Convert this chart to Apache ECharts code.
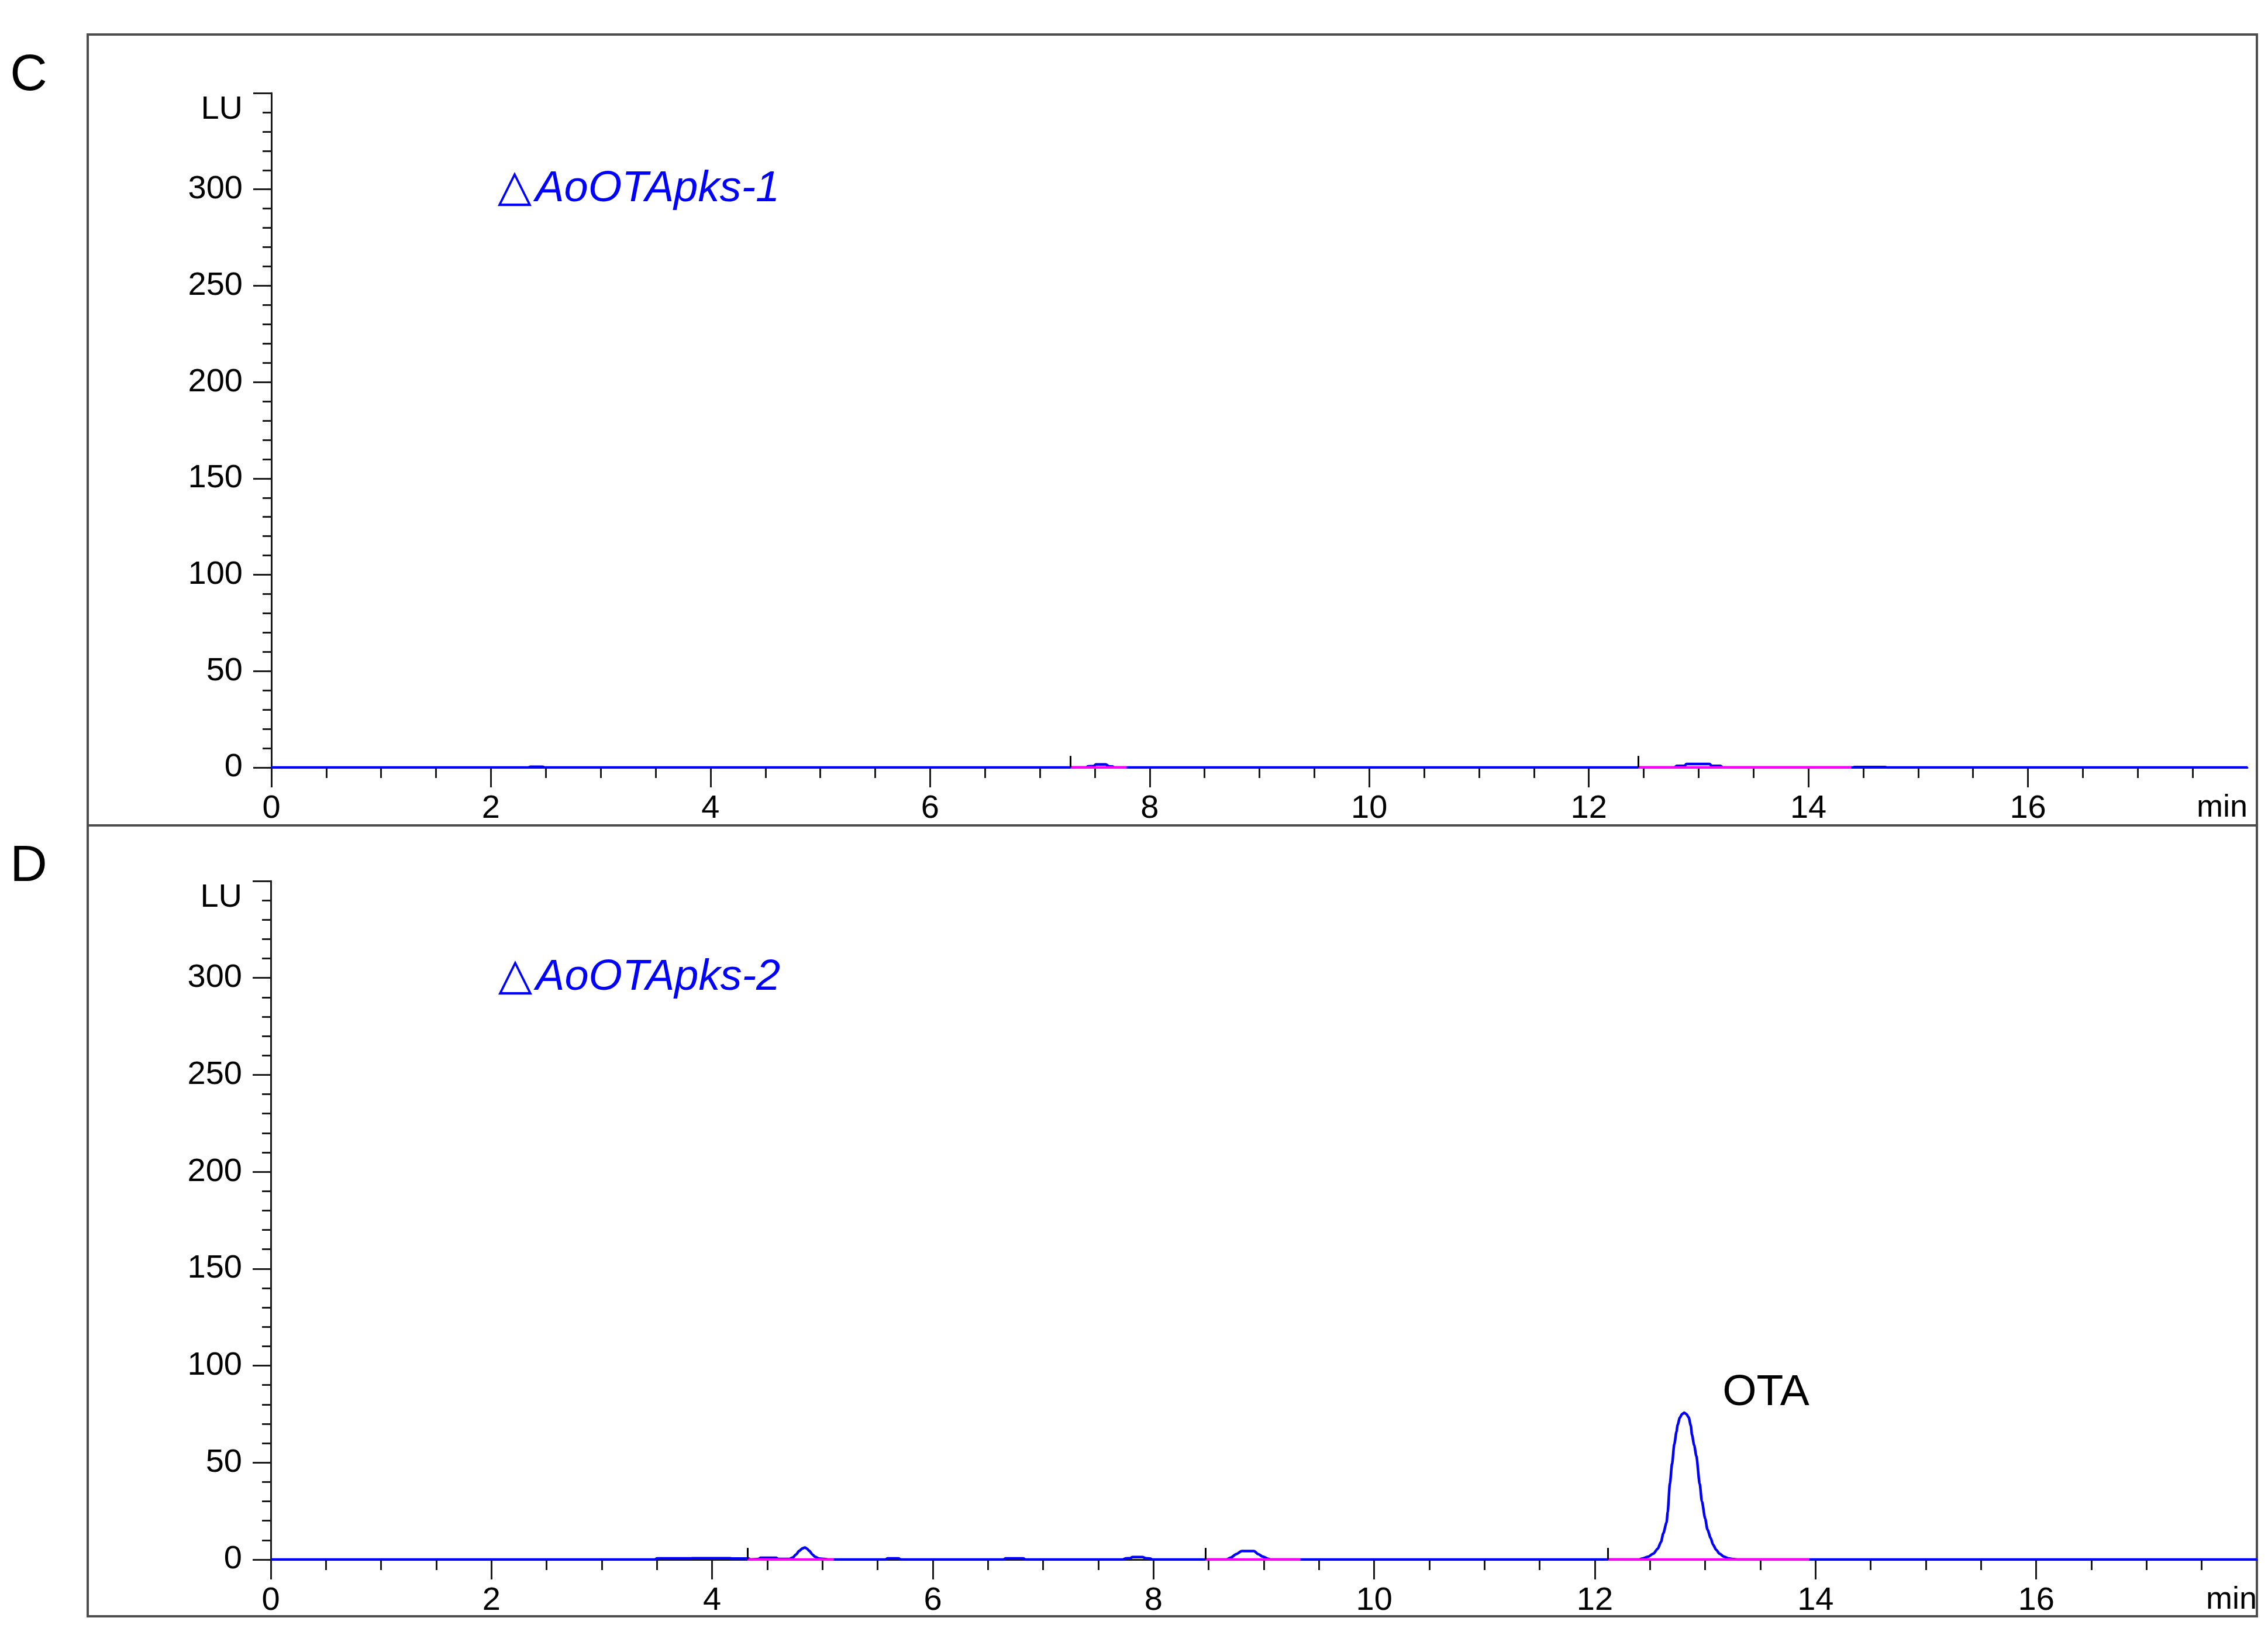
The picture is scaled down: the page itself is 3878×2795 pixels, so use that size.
<!DOCTYPE html>
<html>
<head>
<meta charset="utf-8">
<script src="https://cdn.jsdelivr.net/npm/echarts@6.0.0/dist/echarts.min.js"></script>
<style>
  html, body { margin: 0; padding: 0; background: #fff; }
  #chart { width: 3878px; height: 2795px; }
</style>
</head>
<body>
<div id="chart"></div>
<script>
// axis ranges and tick labels
const timeMax = 18
const luMax = 350
const timeLabels = [0, 2, 4, 6, 8, 10, 12, 14, 16]

// panel C: ΔAoOTApks-1, no OTA peak
const signalC = [
  [0, 0], [2.34, 0], [2.36, 0.4], [2.47, 0.4], [2.49, 0],
  [7.42, 0], [7.44, 0.6], [7.49, 0.7], [7.51, 1.6], [7.60, 1.6], [7.63, 0.6], [7.66, 0.5], [7.68, 0],
  [12.78, 0], [12.80, 0.8], [12.87, 0.8], [12.89, 1.8], [13.10, 1.8], [13.12, 0.8], [13.20, 0.8], [13.22, 0],
  [14.40, 0], [14.42, 0.25], [14.70, 0.25], [14.72, 0],
  [18, 0]
]
const baselinesC = [[7.28, 7.79], [12.45, 14.39]]
const eventsC = [7.28, 12.45]

// panel D: ΔAoOTApks-2, OTA peak at ~12.8 min
const signalD = [
  [0, 0], [3.48, 0], [3.50, 0.6], [3.81, 0.6], [3.83, 0.7], [4.16, 0.7], [4.18, 0.5], [4.33, 0.5],
  [4.35, 0], [4.42, 0.3], [4.44, 0.9], [4.58, 0.9], [4.60, 0.3], [4.70, 0.3],
  [4.73, 1.0], [4.76, 2.6], [4.79, 4.5], [4.82, 5.8], [4.84, 6.2], [4.86, 5.6], [4.88, 4.5], [4.91, 2.6],
  [4.93, 1.5], [4.97, 0.5], [5.02, 0.3], [5.05, 0],
  [5.57, 0], [5.59, 0.6], [5.69, 0.6], [5.71, 0],
  [6.64, 0], [6.66, 0.6], [6.82, 0.6], [6.84, 0],
  [7.72, 0], [7.75, 0.6], [7.79, 0.7], [7.81, 1.3], [7.90, 1.3], [7.93, 0.7], [7.97, 0.5], [7.99, 0],
  [8.66, 0], [8.70, 1.0], [8.75, 2.8], [8.80, 4.4], [8.91, 4.4], [8.95, 2.8], [8.99, 1.5], [9.04, 0.4], [9.06, 0],
  [12.40, 0], [12.43, 0.5], [12.48, 1.4], [12.53, 3.0], [12.57, 5.6], [12.60, 9.1], [12.62, 13.5],
  [12.65, 19.1], [12.66, 24.5], [12.68, 39.2], [12.70, 49.5], [12.72, 59.4], [12.74, 66.0], [12.75, 69.4],
  [12.77, 73.2], [12.79, 75.0], [12.81, 75.7], [12.83, 75.0], [12.85, 73.4], [12.87, 69.0], [12.88, 64.4],
  [12.90, 59.0], [12.92, 53.3], [12.95, 39.2], [12.97, 30.0], [13.00, 21.1], [13.02, 15.5], [13.05, 11.1],
  [13.07, 7.8], [13.10, 5.0], [13.13, 3.0], [13.17, 1.5], [13.21, 0.6], [13.26, 0.2], [13.30, 0],
  [18, 0]
]
const baselinesD = [[4.32, 5.10], [8.47, 9.33], [12.12, 13.94]]
const eventsD = [4.32, 8.47, 12.12]

const eventHeight = 6

const font = 'Liberation Sans, Arial, DejaVu Sans, sans-serif'
const blue = '#0000ff'
const magenta = '#ff00ff'
const axisColor = '#1a1a1a'

const chart = echarts.init(document.getElementById('chart'), null, { renderer: 'canvas' })

const grids = [
  { left: 464, right: 35, top: 159, bottom: 1483 },
  { left: 463, right: 19, top: 1506, bottom: 129 }
]

function xAxisFor (gridIndex) {
  return {
    type: 'value',
    gridIndex,
    min: 0,
    max: timeMax,
    interval: 2,
    name: 'min',
    nameLocation: 'end',
    nameGap: 0,
    nameTextStyle: {
      fontFamily: font, fontSize: 54, color: '#000',
      align: 'right', verticalAlign: 'top', padding: [42, 0, 0, 0]
    },
    axisLine: { show: true, onZero: false, lineStyle: { color: axisColor, width: 3 } },
    axisTick: { show: true, length: 34, customValues: timeLabels, lineStyle: { color: axisColor, width: 3 } },
    minorTick: { show: true, splitNumber: 4, length: 18, lineStyle: { color: axisColor, width: 3 } },
    axisLabel: {
      show: true, customValues: timeLabels, margin: 43,
      fontFamily: font, fontSize: 56, color: '#000'
    },
    splitLine: { show: false }
  }
}

function yAxisFor (gridIndex) {
  return {
    type: 'value',
    gridIndex,
    min: 0,
    max: luMax,
    interval: 50,
    axisLine: { show: true, lineStyle: { color: axisColor, width: 3 } },
    axisTick: { show: true, length: 31, lineStyle: { color: axisColor, width: 3 } },
    minorTick: { show: true, splitNumber: 5, length: 15, lineStyle: { color: axisColor, width: 3 } },
    axisLabel: {
      margin: 49,
      fontFamily: font, fontSize: 56, color: '#000',
      formatter: v => (v === luMax ? '{lu|LU}' : String(v)),
      rich: { lu: { fontFamily: font, fontSize: 56, color: '#000', padding: [58, 0, 0, 0] } }
    },
    splitLine: { show: false }
  }
}

function sampleLabel (name, at) {
  return {
    coord: at,
    symbol: 'circle',
    symbolSize: 0,
    label: {
      show: true,
      position: 'inside',
      align: 'left',
      verticalAlign: 'middle',
      formatter: '{tri|\u25B3}{it|' + name + '}',
      rich: {
        tri: { fontFamily: 'DejaVu Sans, sans-serif', fontSize: 76, color: blue, padding: [0, 6, 0, 0] },
        it: { fontFamily: font, fontStyle: 'italic', fontSize: 74, color: blue }
      }
    }
  }
}

function panelSeries (idx, signal, baselines, events, name, extraPoints) {
  const baseData = []
  baselines.forEach(([s, e]) => { baseData.push([s, 0], [e, 0], [e, '-']) })
  return [
    {
      type: 'line',
      xAxisIndex: idx,
      yAxisIndex: idx,
      data: signal,
      showSymbol: false,
      symbol: 'none',
      smooth: 0.25,
      smoothMonotone: 'x',
      lineStyle: { color: blue, width: 4.5 },
      animation: false,
      silent: true,
      z: 3,
      markPoint: {
        silent: true,
        animation: false,
        data: [sampleLabel(name, [2.06, 300])].concat(extraPoints)
      }
    },
    {
      type: 'line',
      xAxisIndex: idx,
      yAxisIndex: idx,
      data: baseData,
      connectNulls: false,
      showSymbol: false,
      symbol: 'none',
      lineStyle: { color: magenta, width: 4.5 },
      animation: false,
      silent: true,
      z: 4
    },
    {
      type: 'line',
      xAxisIndex: idx,
      yAxisIndex: idx,
      data: [],
      animation: false,
      silent: true,
      z: 5,
      markLine: {
        silent: true,
        animation: false,
        symbol: ['none', 'none'],
        label: { show: false },
        lineStyle: { color: '#000', width: 3, type: 'solid' },
        data: events.map(t => [{ coord: [t, 0] }, { coord: [t, eventHeight] }])
      }
    }
  ]
}

const otaLabel = {
  coord: [13.55, 86],
  symbol: 'circle',
  symbolSize: 0,
  label: {
    show: true,
    position: 'inside',
    formatter: 'OTA',
    fontFamily: font,
    fontSize: 75,
    color: '#000'
  }
}

const option = {
  backgroundColor: '#ffffff',
  animation: false,
  grid: grids,
  xAxis: [xAxisFor(0), xAxisFor(1)],
  yAxis: [yAxisFor(0), yAxisFor(1)],
  series: [
    ...panelSeries(0, signalC, baselinesC, eventsC, 'AoOTApks-1', []),
    ...panelSeries(1, signalD, baselinesD, eventsD, 'AoOTApks-2', [otaLabel])
  ],
  graphic: [
    {
      type: 'rect', z: -1, silent: true,
      shape: { x: 150, y: 59, width: 3709, height: 1352 },
      style: { fill: 'none', stroke: '#4d4d4d', lineWidth: 4 }
    },
    {
      type: 'rect', z: -1, silent: true,
      shape: { x: 150, y: 1411, width: 3709, height: 1352 },
      style: { fill: 'none', stroke: '#4d4d4d', lineWidth: 4 }
    },
    {
      type: 'text', silent: true, x: 49, y: 130,
      style: { text: 'C', fontFamily: font, fontSize: 88, fill: '#000', align: 'center', verticalAlign: 'middle' }
    },
    {
      type: 'text', silent: true, x: 49, y: 1482,
      style: { text: 'D', fontFamily: font, fontSize: 88, fill: '#000', align: 'center', verticalAlign: 'middle' }
    }
  ]
}

chart.setOption(option)
</script>
</body>
</html>
